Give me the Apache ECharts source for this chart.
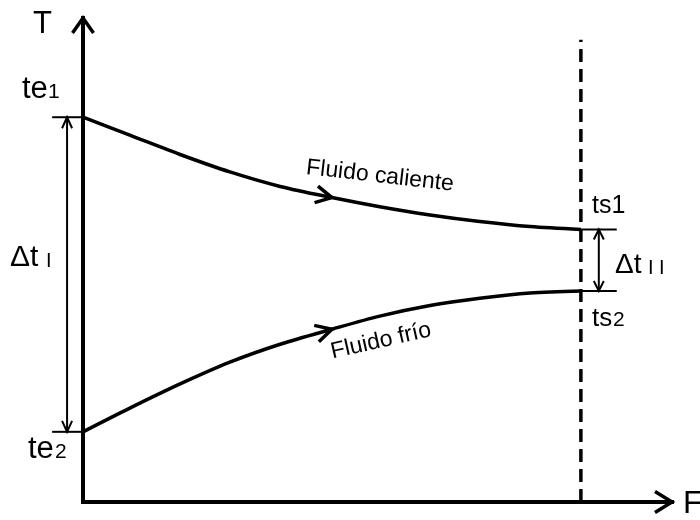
<!DOCTYPE html>
<html>
<head>
<meta charset="utf-8">
<script src="https://cdn.jsdelivr.net/npm/echarts@6/dist/echarts.min.js"></script>
<style>
  html, body { margin: 0; padding: 0; background: #fff; }
  #chart { width: 700px; height: 520px; }
</style>
</head>
<body>
<div id="chart"></div>
<script>
// Flow position along the exchanger (F) and the two fluid temperatures (T)
const flowPos   = [0, 9.4, 19.5, 29.5, 39.6, 50, 59.6, 69.7, 79.7, 89.8, 100];
const hotTemp   = [79.5, 75.8, 71.8, 68.2, 65.2, 62.9, 61.0, 59.3, 57.95, 56.9, 56.3];
const coldTemp  = [14.5, 19.4, 24.4, 28.9, 32.6, 35.7, 38.4, 40.6, 42.1, 43.2, 43.6];
// Outlet section (dashed line) and its drawn height
const outletPos = 100;
const outletTop = 95.5;
// Axis extents
const X_MAX = 118.3;
const Y_MAX = 100;
// Label texts
const axisNames = ['T', 'F'];
const hotName = 'Fluido caliente';
const coldName = 'Fluido frío';

const FONT = '"Liberation Sans", Arial, sans-serif';
const last = flowPos.length - 1;
const arrowIdx = 5;   // point where the flow-direction arrows sit

const chart = echarts.init(document.getElementById('chart'), null, { renderer: 'canvas' });

function chevron(tip, dir, L, W, lw) {
  const len = Math.hypot(dir[0], dir[1]);
  const ux = dir[0] / len, uy = dir[1] / len;
  const nx = -uy, ny = ux;
  return {
    type: 'polyline',
    shape: { points: [
      [tip[0] - ux * L + nx * W, tip[1] - uy * L + ny * W],
      tip,
      [tip[0] - ux * L - nx * W, tip[1] - uy * L - ny * W]
    ] },
    style: { stroke: '#000', lineWidth: lw, fill: null, lineJoin: 'miter' }
  };
}

function seg(a, b, lw) {
  return {
    type: 'line',
    shape: { x1: a[0], y1: a[1], x2: b[0], y2: b[1] },
    style: { stroke: '#000', lineWidth: lw }
  };
}

function renderMarks(params, api) {
  const c = p => api.coord(p);
  const kids = [];
  // axis arrowheads
  const yTip = c([0, Y_MAX]);
  const xTip = c([X_MAX, 0]);
  kids.push(chevron(yTip, [0, -1], 15, 10.5, 3.5));
  kids.push(chevron(xTip, [1, 0], 17, 10.5, 3.5));

  // flow direction arrows on the curves
  const i = arrowIdx;
  const hTip = c([flowPos[i], hotTemp[i]]);
  const hA = c([flowPos[i - 1], hotTemp[i - 1]]), hB = c([flowPos[i + 1], hotTemp[i + 1]]);
  kids.push(chevron(hTip, [hB[0] - hA[0], hB[1] - hA[1]], 16, 8.5, 3.5));
  const cTip = c([flowPos[i], coldTemp[i]]);
  const cA = c([flowPos[i - 1], coldTemp[i - 1]]), cB = c([flowPos[i + 1], coldTemp[i + 1]]);
  kids.push(chevron(cTip, [cB[0] - cA[0], cB[1] - cA[1]], 16, 8.5, 3.5));

  // inlet temperature ticks and Δt I
  const te1 = hotTemp[0], te2 = coldTemp[0];
  kids.push(seg(c([-6.2, te1]), c([0, te1]), 2));
  kids.push(seg(c([-6.2, te2]), c([0, te2]), 2));
  const dI1 = c([-3.2, te1]), dI2 = c([-3.2, te2]);
  kids.push(seg(dI1, dI2, 2));
  kids.push(chevron(dI1, [0, -1], 11, 5, 2));
  kids.push(chevron(dI2, [0, 1], 11, 5, 2));

  // outlet temperature ticks and Δt II
  const ts1 = hotTemp[last], ts2 = coldTemp[last];
  kids.push(seg(c([outletPos, ts1]), c([107.2, ts1]), 2));
  kids.push(seg(c([outletPos, ts2]), c([107.2, ts2]), 2));
  const dO1 = c([103.6, ts1]), dO2 = c([103.6, ts2]);
  kids.push(seg(dO1, dO2, 2));
  kids.push(chevron(dO1, [0, -1], 10, 5, 2));
  kids.push(chevron(dO2, [0, 1], 10, 5, 2));

  return { type: 'group', children: kids };
}

// text placed by its baseline
function label(text, x, baseline, size) {
  return {
    type: 'text',
    x: x,
    y: baseline - 0.35 * size,
    style: {
      text: text,
      fontSize: size,
      fontFamily: FONT,
      fill: '#000',
      align: 'left',
      verticalAlign: 'middle'
    }
  };
}

function rotated(text, cx, cy, size, deg) {
  return {
    type: 'text',
    x: cx,
    y: cy,
    rotation: deg * Math.PI / 180,
    style: {
      text: text,
      fontSize: size,
      fontFamily: FONT,
      fill: '#000',
      align: 'center',
      verticalAlign: 'middle'
    }
  };
}

const axisCommon = {
  type: 'value',
  axisLine: { show: true, onZero: true, lineStyle: { color: '#000', width: 4, cap: 'square' } },
  axisTick: { show: false }, axisLabel: { show: false }, splitLine: { show: false }
};

const option = {
  animation: false,
  backgroundColor: '#fff',
  grid: { left: 83, right: 28, top: 18, bottom: 18 },
  xAxis: Object.assign({ min: 0, max: X_MAX }, axisCommon),
  yAxis: Object.assign({ min: 0, max: Y_MAX }, axisCommon),
  series: [
    {
      type: 'line', name: hotName,
      data: flowPos.map((f, k) => [f, hotTemp[k]]),
      smooth: 0.3, symbol: 'none',
      lineStyle: { color: '#000', width: 3.5 }
    },
    {
      type: 'line', name: coldName,
      data: flowPos.map((f, k) => [f, coldTemp[k]]),
      smooth: 0.3, symbol: 'none',
      lineStyle: { color: '#000', width: 3.5 }
    },
    {
      type: 'line',
      data: [[outletPos, 0], [outletPos, outletTop]],
      symbol: 'none',
      lineStyle: { color: '#000', width: 3.5, type: [13, 7] }
    },
    {
      type: 'custom',
      coordinateSystem: 'cartesian2d',
      clip: false,
      data: [[0, 0]],
      renderItem: renderMarks,
      z: 5
    }
  ],
  graphic: [
    label(axisNames[0], 33, 35, 31),
    label(axisNames[1], 683, 515, 32),
    label('te', 22, 100, 31), label('1', 48, 100, 21),
    label('te', 28, 460, 31), label('2', 55, 460, 21),
    label('Δt', 10, 268, 30), label('I', 46, 268, 20),
    label('ts1', 592, 215, 25),
    label('ts', 592, 328, 26), label('2', 613, 328, 21),
    label('Δt', 615, 275, 28), label('I I', 648, 275, 20),
    rotated(hotName, 380, 176, 23, -6.5),
    rotated(coldName, 381, 341, 23, 12.7)
  ]
};

chart.setOption(option);
</script>
</body>
</html>
